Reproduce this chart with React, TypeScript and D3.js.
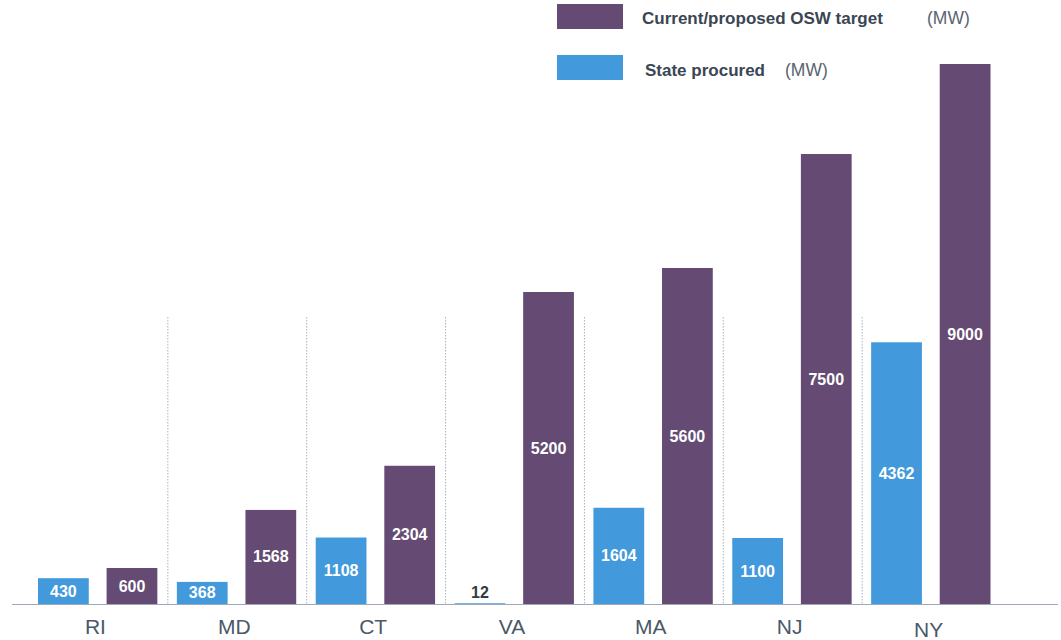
import React from "react";
import * as d3 from "d3";

const states = ["RI", "MD", "CT", "VA", "MA", "NJ", "NY"];
const procured = [430, 368, 1108, 12, 1604, 1100, 4362];
const target = [600, 1568, 2304, 5200, 5600, 7500, 9000];
const seriesKeys = ["procured", "target"];
const seriesNames = ["Current/proposed OSW target", "State procured"];

const W = 1061;
const H = 640;
const baseY = 604;
const purple = "#654b74";
const blue = "#4299db";
const font = "'Liberation Sans', Arial, Helvetica, sans-serif";

const App = () => {
    const x = d3.scaleBand().domain(states).range([28, 1000]).padding(0);
    const inner = d3
        .scaleBand()
        .domain(seriesKeys)
        .range([10, x.step() - 9.5])
        .paddingInner(0.26);
    const y = d3.scaleLinear().domain([0, 9000]).range([baseY, 64]);

    const rows = states.map((s, i) => ({
        state: s,
        values: [
            { key: "procured", value: procured[i], color: blue },
            { key: "target", value: target[i], color: purple },
        ],
    }));

    return (
        <svg width={W} height={H} style={{ position: "absolute", left: 0, top: 0 }} fontFamily={font}>
            {/* dotted separators between states */}
            {states.slice(1).map((s) => (
                <line key={s} x1={x(s)! + 1} x2={x(s)! + 1} y1={317} y2={baseY}
                    stroke="#a8b2c0" strokeWidth={1} strokeDasharray="1.5,1.5" />
            ))}
            {rows.map((r) => (
                <g key={r.state} transform={`translate(${x(r.state)},0)`}>
                    {r.values.map((v) => {
                        const top = y(v.value);
                        const h = baseY - top;
                        const bx = inner(v.key)!;
                        const bw = inner.bandwidth();
                        const small = h < 16;
                        return (
                            <g key={v.key}>
                                <rect x={bx} y={top} width={bw} height={h} fill={v.color} />
                                <text
                                    x={bx + bw / 2}
                                    y={small ? baseY - 12 : top + h / 2}
                                    textAnchor="middle"
                                    dominantBaseline="central"
                                    fontSize="16"
                                    fontWeight="bold"
                                    fill={small ? "#333a44" : "#ffffff"}
                                >
                                    {v.value}
                                </text>
                            </g>
                        );
                    })}
                    <text
                        x={x.bandwidth() / 2 - 2}
                        y={r.state === "NY" ? 637 : 634}
                        textAnchor="middle"
                        fontSize="21"
                        fill="#4a5868"
                    >
                        {r.state}
                    </text>
                </g>
            ))}
            <line x1={12} x2={1058} y1={baseY + 0.5} y2={baseY + 0.5} stroke="#9ea8b6" strokeWidth={1.2} />

            {/* legend */}
            <g>
                <rect x={557} y={4} width={66} height={25} fill={purple} />
                <text x={642} y={18} dominantBaseline="central" fontSize="17" fill="#3a4654" fontWeight="bold">
                    {seriesNames[0]}
                </text>
                <text x={927} y={18} dominantBaseline="central" fontSize="17.5" fill="#5a6470">(MW)</text>
                <rect x={557} y={55} width={66} height={25} fill={blue} />
                <text x={645} y={70} dominantBaseline="central" fontSize="17" fill="#3a4654" fontWeight="bold">
                    {seriesNames[1]}
                </text>
                <text x={785} y={70} dominantBaseline="central" fontSize="17.5" fill="#5a6470">(MW)</text>
            </g>
        </svg>
    );
};

export default App;
